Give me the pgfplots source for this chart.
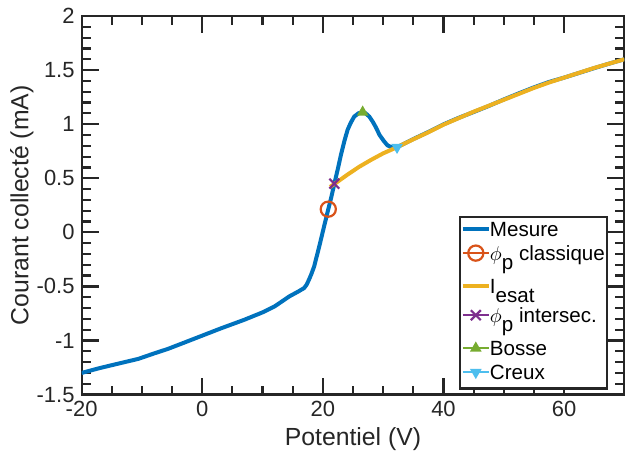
\documentclass[border=0pt]{standalone}
\usepackage{pgfplots}
\pgfplotsset{compat=1.18}
\usepackage{fontspec}
\setmainfont{Liberation Sans}
\definecolor{mblue}{rgb}{0,0.447,0.741}
\definecolor{morange}{rgb}{0.85,0.325,0.098}
\definecolor{myellow}{rgb}{0.929,0.694,0.125}
\definecolor{mpurple}{rgb}{0.494,0.184,0.556}
\definecolor{mgreen}{rgb}{0.466,0.674,0.188}
\definecolor{mcyan}{rgb}{0.301,0.745,0.933}
\definecolor{axgray}{rgb}{0.15,0.15,0.15}
\newcommand{\sub}[1]{\raisebox{-0.45em}{#1}}
\newcommand{\leg}[1]{\rule[-0.22em]{0pt}{0.95em}#1}
\begin{document}
\begin{tikzpicture}
\begin{axis}[
  scale only axis,
  width=271.7pt, height=189.5pt,
  xmin=-20, xmax=70, ymin=-1.5, ymax=2,
  xtick={-20,0,20,40,60},
  ytick={-1.5,-1,-0.5,0,0.5,1,1.5,2},
  yticklabels={-1.5,-1,-0.5,0,0.5,1,1.5,2},
  xticklabels={-20,0,20,40,60},
  minor x tick num=3,
  minor y tick num=4,
  tick align=inside,
  major tick length=8.5pt,
  minor tick length=4.5pt,
  every tick/.style={axgray, line width=1.1pt},
  axis line style={axgray, line width=1.1pt},
  tick label style={font=\fontsize{11}{13}\selectfont, text=axgray},
  /pgf/number format/assume math mode=true,
  xlabel={Potentiel (V)},
  ylabel={Courant collecté (mA)},
  label style={font=\fontsize{12.4}{14}\selectfont, text=axgray},
  xlabel style={at={(axis description cs:0.5,-0.1187)}, anchor=center},
  ylabel style={at={(axis description cs:-0.110,0.5)}, anchor=center},
  legend cell align=left,
  legend style={at={(0.9693,0.0132)}, anchor=south east, draw=axgray, line width=1.1pt,
    fill=white, font=\fontsize{10.3}{12}\selectfont, inner xsep=0.3pt, inner ysep=1pt,
    nodes={inner xsep=0.6pt, inner ysep=1.13pt, text depth={}, text height={}},
    cells={anchor=base west}, row sep=0pt, column sep=-1pt},
  legend image code/.code={\draw[mark repeat=2,mark phase=2,#1] plot coordinates {(0pt,3.7pt) (6.5pt,3.7pt) (13pt,3.7pt)};},
]
\addplot[mblue, line width=2pt, no marks] coordinates {
(-20,-1.300) (-17,-1.255) (-14,-1.215) (-10.6,-1.170) (-8,-1.120) (-5.7,-1.078)
(-3,-1.020) (0,-0.955) (3,-0.890) (7,-0.808) (10,-0.740) (12,-0.685) (14.45,-0.592)
(16,-0.545) (16.9,-0.515) (17.3,-0.485) (17.7,-0.438) (18.1,-0.385) (18.56,-0.315)
(19.4,-0.131) (20.2,0.054) (20.9,0.214) (21.4,0.325) (21.9,0.448) (22.5,0.590) (23.0,0.716)
(23.6,0.850) (24.1,0.947) (24.6,1.010) (25.2,1.070) (25.9,1.100) (26.5,1.110)
(27.1,1.100) (27.7,1.070) (28.3,1.020) (28.8,0.970) (29.4,0.900) (30.1,0.845)
(30.7,0.805) (31.3,0.788) (32.3,0.787) (33.5,0.820) (35,0.862) (37.5,0.928)
(40,0.998) (42.5,1.058) (45,1.112) (47.5,1.168) (50,1.228) (52.5,1.285)
(55,1.340) (57.5,1.390) (60,1.430) (62.5,1.474) (65,1.518) (67.5,1.560) (70,1.600)
};
\addlegendentry{\leg{Mesure}}
\addplot[morange, line width=1.1pt, mark=o, mark size=3.8pt] coordinates {(20.9,0.214)};
\addlegendentry{\leg{$\phi$\sub{p} classique}}
\addplot[myellow, line width=2pt, no marks] coordinates {
(21.2,0.420) (22,0.450) (24,0.530) (26,0.605) (28,0.670) (30,0.730) (32.3,0.787)
(35,0.860) (37.5,0.925) (40,0.995) (42.5,1.055) (45,1.115) (47.5,1.170) (50,1.225)
(52.5,1.280) (55,1.335) (57.5,1.385) (60,1.430) (62.5,1.475) (65,1.520) (67.5,1.560) (70,1.600)
};
\addlegendentry{\leg{I\sub{esat}}}
\addplot[mpurple, line width=1.1pt, mark=x, mark size=3.5pt] coordinates {(21.9,0.450)};
\addlegendentry{\leg{$\phi$\sub{p} intersec.}}
\addplot[mgreen, line width=1.1pt, mark=triangle*, mark size=2.3pt] coordinates {(26.6,1.110)};
\addlegendentry{\leg{Bosse}}
\addplot[mcyan, line width=1.1pt, mark=triangle*, mark size=2.3pt, mark options={rotate=180}] coordinates {(32.3,0.787)};
\addlegendentry{\leg{Creux}}
\end{axis}
\pgfresetboundingbox
\path[use as bounding box] ([xshift=-40.85pt,yshift=-33.5pt]current axis.south west) rectangle ([xshift=0.3pt,yshift=8pt]current axis.north east);
\end{tikzpicture}
\end{document}
